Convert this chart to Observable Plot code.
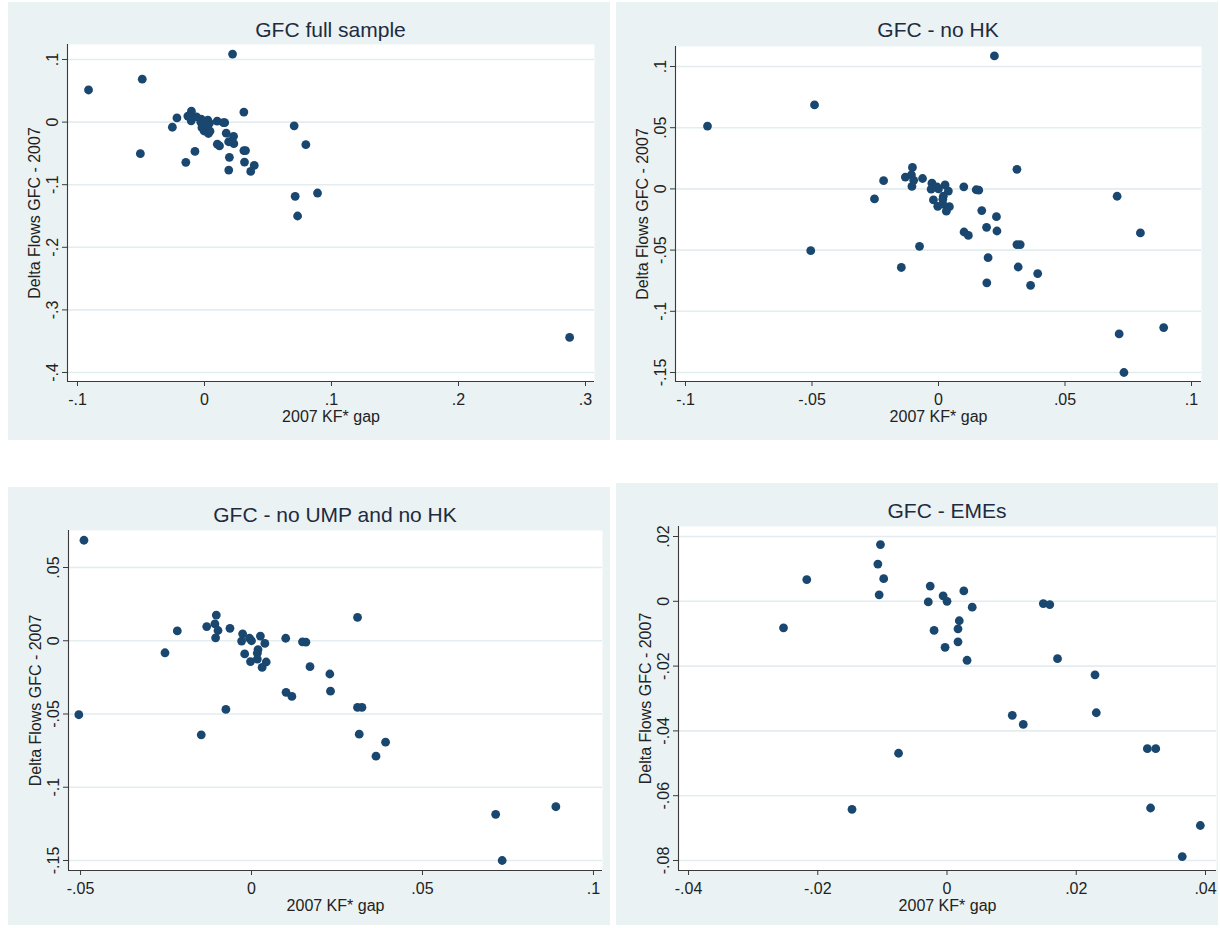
<!DOCTYPE html>
<html>
<head>
<meta charset="utf-8">
<script src="https://cdn.jsdelivr.net/npm/d3@7"></script>
<script src="https://cdn.jsdelivr.net/npm/@observablehq/plot@0.6"></script>
<style>
  html, body { margin: 0; padding: 0; background: #ffffff; }
  #root { position: relative; width: 1220px; height: 928px; overflow: hidden; background: #ffffff; }
  .panel { position: absolute; background: #eaf2f3; }
  .panel svg { position: absolute; left: 0; top: 0; overflow: visible; }
  .ptitle { position: absolute; text-align: center; font-family: "Liberation Sans", Arial, sans-serif;
            font-size: 21px; line-height: 24px; color: #1e2b40; white-space: nowrap; }
</style>
</head>
<body>
<div id="root"></div>
<script>
// ---- Data ----
// Emerging market economies (shown in all four panels)
const emeGap   = [-0.0253, -0.0217, -0.0147, -0.0107, -0.0103, -0.0098, -0.0105, -0.0075,
                  -0.0026, -0.0029, -0.0020, -0.0006,  0.0000, -0.0003,  0.0026,  0.0019,
                   0.0017,  0.0017,  0.0031,  0.0039,  0.0149,  0.0159,  0.0171,  0.0101,
                   0.0118,  0.0229,  0.0231,  0.0310,  0.0323,  0.0315,  0.0392,  0.0364];
const emeFlow  = [-0.0082,  0.0067, -0.0642,  0.0115,  0.0175,  0.0070,  0.0020, -0.0469,
                   0.0047, -0.0002, -0.0090,  0.0017,  0.0000, -0.0142,  0.0032, -0.0060,
                  -0.0085, -0.0125, -0.0182, -0.0018, -0.0007, -0.0010, -0.0177, -0.0352,
                  -0.0380, -0.0227, -0.0344, -0.0455, -0.0455, -0.0638, -0.0692, -0.0788];
// Other non-UMP economies (excluding HK)
const otherGap  = [-0.0505, -0.0490, -0.0131, -0.0063,  0.0043,  0.0100,  0.0310,  0.0714,  0.0733,  0.0890];
const otherFlow = [-0.0505,  0.0686,  0.0097,  0.0085, -0.0145,  0.0017,  0.0160, -0.1185, -0.1500, -0.1133];
// UMP economies
const umpGap  = [-0.0913,  0.0221,  0.0706,  0.0798,  0.0190,  0.0196,  0.0191];
const umpFlow = [ 0.0513,  0.1086, -0.0060, -0.0360, -0.0314, -0.0562, -0.0767];
// Hong Kong
const hkGap  = [0.2875];
const hkFlow = [-0.3440];

const panelTitles = ["GFC full sample", "GFC - no HK", "GFC - no UMP and no HK", "GFC - EMEs"];
const xLabel = "2007 KF* gap";
const yLabel = "Delta Flows GFC - 2007";
const xTicks = [[-0.1, 0, 0.1, 0.2, 0.3], [-0.1, -0.05, 0, 0.05, 0.1], [-0.05, 0, 0.05, 0.1], [-0.04, -0.02, 0, 0.02, 0.04]];
const yTicks = [[-0.4, -0.3, -0.2, -0.1, 0, 0.1], [-0.15, -0.1, -0.05, 0, 0.05, 0.1], [-0.15, -0.1, -0.05, 0, 0.05], [-0.08, -0.06, -0.04, -0.02, 0, 0.02]];

// ---- Build tables ----
const toRows = (xs, ys) => xs.map((x, i) => ({gap: x, flow: ys[i]}));
const eme = toRows(emeGap, emeFlow);
const other = toRows(otherGap, otherFlow);
const ump = toRows(umpGap, umpFlow);
const hk = toRows(hkGap, hkFlow);
const datasets = [
  [...eme, ...other, ...ump, ...hk],
  [...eme, ...other, ...ump],
  [...eme, ...other],
  [...eme]
];

// ---- Layout ----
const layouts = [
  {left: 8,   top: 2,   w: 602, h: 438, ml: 59, mr: 16, mt: 42, mb: 59, xd: [-0.10787, 0.30709], yd: [-0.41438, 0.12396]},
  {left: 616, top: 2,   w: 602, h: 438, ml: 59, mr: 17, mt: 44, mb: 59, xd: [-0.10395, 0.10395], yd: [-0.15735, 0.11634]},
  {left: 8,   top: 487, w: 602, h: 438, ml: 60, mr: 8,  mt: 43, mb: 55, xd: [-0.05352, 0.10264], yd: [-0.15683, 0.07526]},
  {left: 616, top: 483, w: 602, h: 442, ml: 62, mr: 2,  mt: 43, mb: 55, xd: [-0.04155, 0.04170], yd: [-0.08309, 0.02309]}
];

const fmt = d => Math.abs(d) < 1e-12 ? "0" : String(+d.toFixed(4)).replace(/^(-?)0\./, "$1.");
const navy = "#1a476f";
const axisCol = "#3a3a3a";
const fs = 16;

const root = document.getElementById("root");
layouts.forEach((L, i) => {
  const div = document.createElement("div");
  div.className = "panel";
  Object.assign(div.style, {left: L.left + "px", top: L.top + "px", width: L.w + "px", height: L.h + "px"});

  const chart = Plot.plot({
    width: L.w, height: L.h,
    marginLeft: L.ml, marginRight: L.mr, marginTop: L.mt, marginBottom: L.mb,
    style: {background: "transparent", fontFamily: "'Liberation Sans', Arial, sans-serif", fontSize: fs + "px", color: "#222"},
    x: {domain: L.xd},
    y: {domain: L.yd},
    marks: [
      Plot.frame({fill: "white", stroke: "none"}),
      Plot.gridY(yTicks[i], {stroke: "#e3edf0", strokeOpacity: 1, strokeWidth: 1.6}),
      Plot.ruleX([L.xd[0]], {stroke: axisCol, strokeWidth: 1.1}),
      Plot.ruleY([L.yd[0]], {stroke: axisCol, strokeWidth: 1.1}),
      Plot.axisX(xTicks[i], {tickSize: 5, tickPadding: 7, tickFormat: fmt, label: null, stroke: axisCol, fontSize: fs}),
      Plot.axisY(yTicks[i], {tickSize: 5, tickPadding: 5, tickRotate: -90, tickFormat: fmt, label: null, stroke: axisCol, fontSize: fs}),
      Plot.dot(datasets[i], {x: "gap", y: "flow", r: 4.4, fill: navy, stroke: "none"}),
      Plot.text([xLabel], {frameAnchor: "bottom", lineAnchor: "middle", textAnchor: "middle", dy: 35, fontSize: fs, fill: "#222"}),
      Plot.text([yLabel], {frameAnchor: "left", rotate: -90, textAnchor: "middle", lineAnchor: "middle", dx: -33, fontSize: fs, fill: "#222"})
    ]
  });
  div.appendChild(chart);

  const t = document.createElement("div");
  t.className = "ptitle";
  t.textContent = panelTitles[i];
  Object.assign(t.style, {left: L.ml + "px", width: (L.w - L.ml - L.mr) + "px", top: "16px"});
  div.appendChild(t);

  root.appendChild(div);
});
</script>
</body>
</html>
